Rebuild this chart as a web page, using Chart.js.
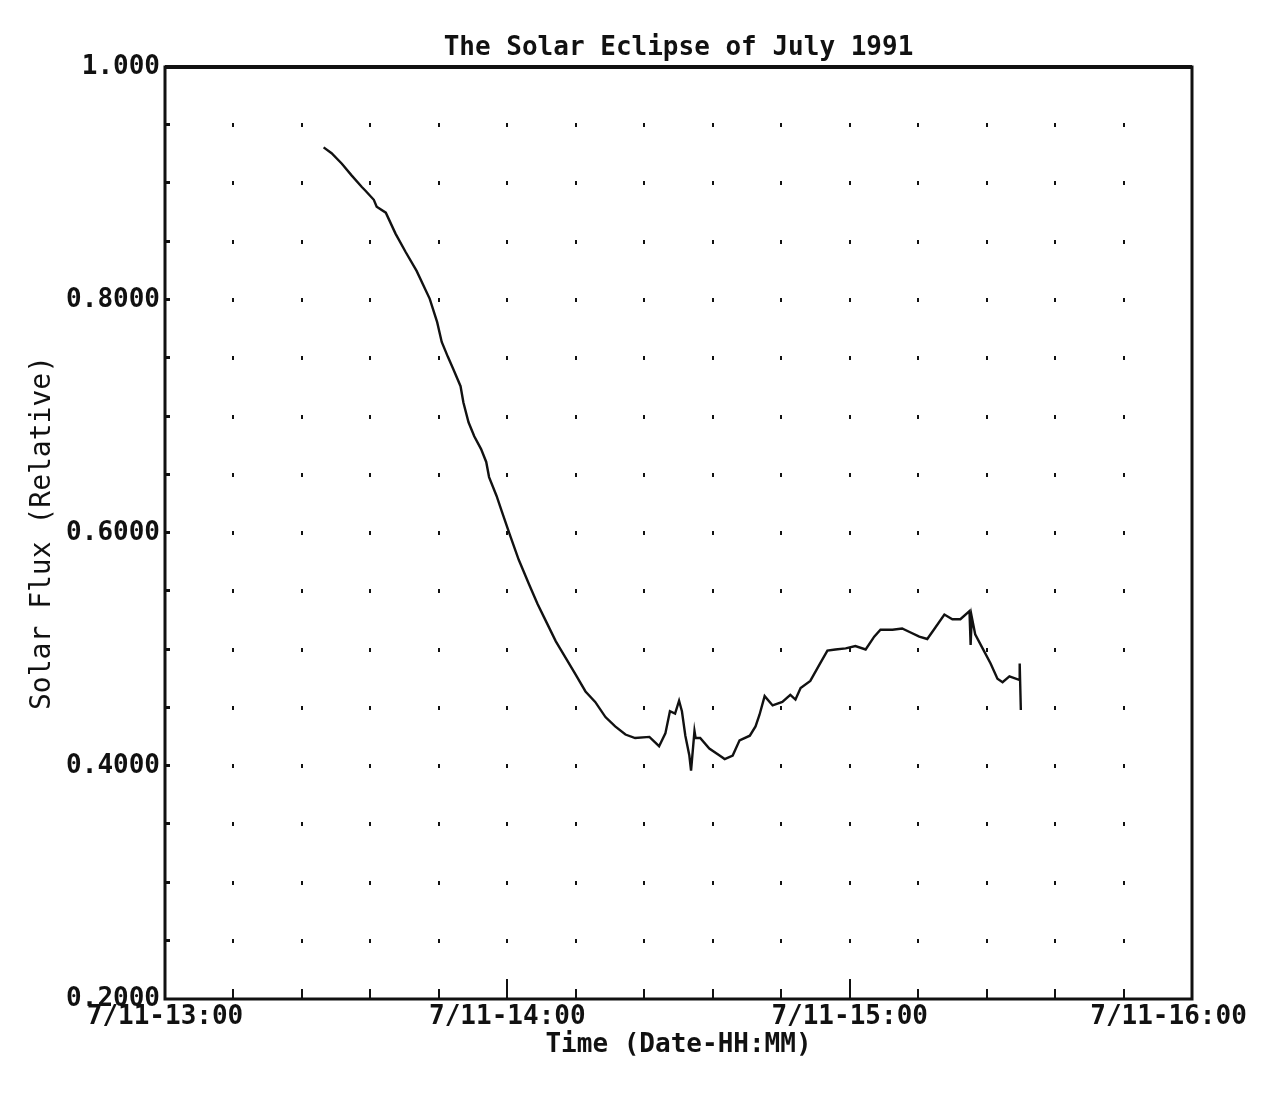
<!DOCTYPE html>
<html>
<head>
<meta charset="utf-8">
<script src="https://cdn.jsdelivr.net/npm/chart.js@4.4.1/dist/chart.umd.min.js"></script>
<style>
  html, body { margin: 0; padding: 0; background: #ffffff; }
  #wrap { width: 1280px; height: 1098px; }
</style>
</head>
<body>
<div id="wrap"><canvas id="c" width="1280" height="1098"></canvas></div>
<script>
// ---- data (minutes after 7/11 13:00, relative solar flux) ----
const chartTitle = 'The Solar Eclipse of July 1991';
const xAxisTitle = 'Time (Date-HH:MM)';
const yAxisTitle = 'Solar Flux (Relative)';

const xTickValues = [0, 60, 120, 180];
const xTickLabels = ['7/11-13:00', '7/11-14:00', '7/11-15:00', '7/11-16:00'];
const yTickValues = [0.2, 0.4, 0.6, 0.8, 1.0];
const yTickLabels = ['0.2000', '0.4000', '0.6000', '0.8000', '1.000'];

const timeMinutes = [
  27.8, 29.2, 31.0, 32.7, 34.5, 35.1, 36.6, 37.1, 38.7, 40.4,
  42.2, 44.1, 46.4, 47.7, 48.5, 49.6, 50.5, 51.8, 52.3, 53.2,
  54.2, 55.4, 56.3, 56.8, 58.1, 59.0, 60.4, 62.0, 63.8, 65.3,
  66.4, 68.5, 70.2, 71.9, 73.7, 75.4, 77.2, 78.9, 80.7, 82.4,
  84.9, 86.6, 87.7, 88.5, 89.4, 90.1, 90.6, 91.2, 91.9, 92.2,
  92.8, 93.0, 93.8, 95.4, 97.2, 98.1, 99.5, 100.7, 102.5, 103.5,
  104.2, 105.1, 106.5, 108.2, 109.6, 110.5, 111.4, 113.1, 114.7, 116.1,
  117.5, 119.3, 121.0, 122.8, 124.3, 125.4, 127.5, 129.2, 130.5, 132.2,
  133.6, 134.9, 136.6, 138.0, 139.4, 141.0, 141.2, 141.4, 142.0, 143.3,
  144.7, 145.9, 146.8, 148.0, 149.7, 149.8, 150.0
];
const solarFlux = [
  0.931, 0.926, 0.917, 0.907, 0.897, 0.894, 0.886, 0.880, 0.875, 0.857,
  0.841, 0.825, 0.801, 0.781, 0.764, 0.751, 0.741, 0.726, 0.712, 0.695,
  0.683, 0.672, 0.661, 0.648, 0.632, 0.619, 0.599, 0.577, 0.556, 0.539,
  0.528, 0.507, 0.493, 0.479, 0.464, 0.455, 0.442, 0.434, 0.427, 0.424,
  0.425, 0.417, 0.428, 0.447, 0.445, 0.456, 0.447, 0.426, 0.409, 0.396,
  0.430, 0.424, 0.424, 0.415, 0.409, 0.406, 0.409, 0.422, 0.426, 0.434,
  0.444, 0.460, 0.452, 0.455, 0.461, 0.457, 0.467, 0.473, 0.487, 0.499,
  0.500, 0.501, 0.503, 0.500, 0.511, 0.517, 0.517, 0.518, 0.515, 0.511,
  0.509, 0.518, 0.530, 0.526, 0.526, 0.533, 0.504, 0.528, 0.513, 0.501,
  0.488, 0.475, 0.472, 0.477, 0.474, 0.488, 0.448
];

// ---- styling constants ----
const INK = '#111111';
const FONT = "'DejaVu Sans Mono', 'Liberation Mono', monospace";
const gridStepX = 12;     // minutes between dot columns
const gridStepY = 0.05;   // flux between dot rows

const points = timeMinutes.map((t, i) => ({ x: t, y: solarFlux[i] }));

function labelFor(values, labels, v) {
  for (let i = 0; i < values.length; i++) {
    if (Math.abs(values[i] - v) < 1e-6) return labels[i];
  }
  return '';
}

const framePlugin = {
  id: 'frameAndDots',
  beforeDatasetsDraw(chart) {
    const { ctx, chartArea: a, scales } = chart;
    const xs = scales.x, ys = scales.y;
    ctx.save();
    ctx.fillStyle = INK;
    ctx.strokeStyle = INK;
    const nx = Math.round((xs.max - xs.min) / gridStepX);
    const ny = Math.round((ys.max - ys.min) / gridStepY);
    // dot grid at minor intersections
    for (let i = 1; i < nx; i++) {
      const px = Math.round(xs.getPixelForValue(xs.min + i * gridStepX));
      for (let j = 1; j < ny; j++) {
        const py = Math.round(ys.getPixelForValue(ys.min + j * gridStepY));
        ctx.fillRect(px - 1, py - 2, 2, 4);
      }
    }
    // inward tick marks on bottom axis
    ctx.lineWidth = 2;
    for (let i = 1; i < nx; i++) {
      const v = xs.min + i * gridStepX;
      const px = Math.round(xs.getPixelForValue(v));
      const major = Math.abs(v % 60) < 1e-6;
      const len = major ? 20 : 10;
      ctx.beginPath();
      ctx.moveTo(px, a.bottom);
      ctx.lineTo(px, a.bottom - len);
      ctx.stroke();
    }
    // inward tick marks on left axis
    for (let j = 1; j < ny; j++) {
      const py = Math.round(ys.getPixelForValue(ys.min + j * gridStepY));
      ctx.fillRect(a.left, py - 2, 5, 3);
    }
    ctx.restore();
  },
  afterDraw(chart) {
    const { ctx, chartArea: a } = chart;
    ctx.save();
    ctx.strokeStyle = INK;
    ctx.lineWidth = 3;
    ctx.strokeRect(a.left, a.top, a.right - a.left, a.bottom - a.top);
    ctx.lineWidth = 4;
    ctx.beginPath();
    ctx.moveTo(a.left, a.top);
    ctx.lineTo(a.right, a.top);
    ctx.stroke();
    ctx.restore();
  }
};

const bgPlugin = {
  id: 'whiteBg',
  beforeDraw(chart) {
    const { ctx, width, height } = chart;
    ctx.save();
    ctx.fillStyle = '#ffffff';
    ctx.fillRect(0, 0, width, height);
    ctx.restore();
  }
};

new Chart(document.getElementById('c'), {
  type: 'line',
  data: {
    datasets: [{
      label: 'Solar Flux',
      data: points,
      borderColor: INK,
      borderWidth: 2.4,
      pointRadius: 0,
      tension: 0,
      fill: false
    }]
  },
  options: {
    responsive: false,
    animation: false,
    devicePixelRatio: 1,
    layout: { padding: { left: 0, right: 88, top: 0, bottom: 0 } },
    plugins: {
      legend: { display: false },
      tooltip: { enabled: false },
      title: {
        display: true,
        text: chartTitle,
        fullSize: false,
        color: INK,
        font: { family: FONT, size: 26, weight: 'bold', lineHeight: 1.2 },
        padding: { top: 32.4, bottom: 3.4 }
      }
    },
    scales: {
      x: {
        type: 'linear',
        min: 0,
        max: 180,
        grid: { display: false, drawTicks: false },
        border: { display: false },
        ticks: {
          stepSize: 60,
          autoSkip: false,
          maxRotation: 0,
          padding: 2.4,
          color: INK,
          font: { family: FONT, size: 26, weight: 'bold', lineHeight: 1.2 },
          callback: (v) => {
            const s = labelFor(xTickValues, xTickLabels, v);
            // the last label sits a little left of its tick, as in the original plot
            return v === xTickValues[xTickValues.length - 1] ? s + '   ' : s;
          }
        },
        title: {
          display: true,
          text: xAxisTitle,
          color: INK,
          font: { family: FONT, size: 26, weight: 'bold', lineHeight: 1.2 },
          padding: { top: 0, bottom: 37.4 }
        },
        afterFit: (s) => { s.height = 99; s.paddingLeft = 0; s.paddingRight = 0; }
      },
      y: {
        type: 'linear',
        min: 0.2,
        max: 1.0,
        grid: { display: false, drawTicks: false },
        border: { display: false },
        ticks: {
          stepSize: 0.2,
          autoSkip: false,
          padding: 5,
          color: INK,
          font: { family: FONT, size: 26, weight: 'bold', lineHeight: 1.2 },
          callback: (v) => labelFor(yTickValues, yTickLabels, v)
        },
        title: {
          display: true,
          text: yAxisTitle,
          color: INK,
          font: { family: FONT, size: 28, weight: 'normal', lineHeight: 1.2 },
          padding: { top: 26.2, bottom: 0 }
        },
        afterFit: (s) => { s.width = 165; }
      }
    }
  },
  plugins: [bgPlugin, framePlugin]
});
</script>
</body>
</html>
